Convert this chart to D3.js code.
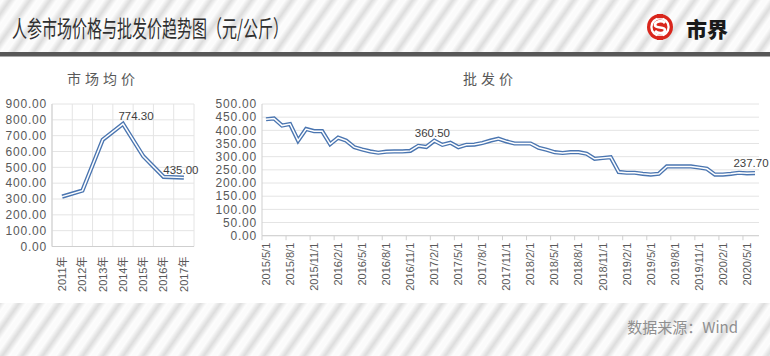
<!DOCTYPE html>
<html><head><meta charset="utf-8">
<script src="https://cdn.jsdelivr.net/npm/d3@7"></script>
<style>html,body{margin:0;padding:0;background:#fff;}svg{display:block;}</style>
</head><body>
<script>
// ---------- data ----------
const years = ["2011年","2012年","2013年","2014年","2015年","2016年","2017年"];
const marketAvg = [315, 353, 674, 774.3, 570, 440, 435];
const leftTicks = [0,100,200,300,400,500,600,700,800,900];

const months = ["2015/5/1","2015/6/1","2015/7/1","2015/8/1","2015/9/1","2015/10/1","2015/11/1","2015/12/1",
"2016/1/1","2016/2/1","2016/3/1","2016/4/1","2016/5/1","2016/6/1","2016/7/1","2016/8/1","2016/9/1","2016/10/1","2016/11/1","2016/12/1",
"2017/1/1","2017/2/1","2017/3/1","2017/4/1","2017/5/1","2017/6/1","2017/7/1","2017/8/1","2017/9/1","2017/10/1","2017/11/1","2017/12/1",
"2018/1/1","2018/2/1","2018/3/1","2018/4/1","2018/5/1","2018/6/1","2018/7/1","2018/8/1","2018/9/1","2018/10/1","2018/11/1","2018/12/1",
"2019/1/1","2019/2/1","2019/3/1","2019/4/1","2019/5/1","2019/6/1","2019/7/1","2019/8/1","2019/9/1","2019/10/1","2019/11/1","2019/12/1",
"2020/1/1","2020/2/1","2020/3/1","2020/4/1","2020/5/1","2020/6/1"];
const wholesale = [442,445,418,424,361,405,397,397,
348,372,361,336,327,320,315,319,320,320,322,341,
337,360.5,345,353,336,345,346,352,361,368,358,350,
350,350,334,326,317,314,317,317,311,292,295,298,
242,239,239,235,232,235,263,263,263,263,259,254,
232,232,235,239,237,237.7];
const rightTicks = [0,50,100,150,200,250,300,350,400,450,500];
const leftLabelIdx = [3, 6];
const rightLabelIdx = [21, 61];

// ---------- setup ----------
const W = 770, H = 356;
const svg = d3.select("body").append("svg").attr("width", W).attr("height", H);
const defs = svg.append("defs");
const grad = defs.append("linearGradient").attr("id","sg").attr("x1","0").attr("x2","1").attr("y1","0").attr("y2","0");
grad.append("stop").attr("offset","0").attr("stop-color","#ffffff");
grad.append("stop").attr("offset","0.5").attr("stop-color","#dcdcdc");
grad.append("stop").attr("offset","1").attr("stop-color","#ffffff");
const pat = defs.append("pattern").attr("id","stripes").attr("patternUnits","userSpaceOnUse")
  .attr("width",16.5).attr("height",16.5).attr("patternTransform","rotate(35)");
pat.append("rect").attr("width",16.5).attr("height",16.5).attr("fill","#fbfbfb");
pat.append("rect").attr("x",2).attr("width",12).attr("height",16.5).attr("fill","url(#sg)");

svg.append("rect").attr("width",W).attr("height",H).attr("fill","url(#stripes)");
svg.append("rect").attr("x",0).attr("y",56).attr("width",W).attr("height",247).attr("fill","#ffffff");
svg.append("rect").attr("x",0).attr("y",52).attr("width",W).attr("height",4.5).attr("fill","#575757");

// title
svg.append("text").attr("x",12).attr("y",37)
  .attr("font-family","'Noto Sans CJK SC', sans-serif").attr("font-size",23).attr("fill","#303030")
  .attr("textLength",276).attr("lengthAdjust","spacingAndGlyphs")
  .text("人参市场价格与批发价趋势图（元/公斤）");

// logo
const logo = svg.append("g").attr("transform","translate(660,27)");
logo.append("circle").attr("r",13).attr("fill","#d9261c");
logo.append("circle").attr("r",8.6).attr("fill","none").attr("stroke","#fff").attr("stroke-width",2.3);
logo.append("path").attr("d","M5,-4 C2,-7 -5,-6 -5,-2 C-5,2 5,-1 5,3 C5,7 -2,7 -5,4")
  .attr("fill","none").attr("stroke","#fff").attr("stroke-width",2.7);
logo.append("rect").attr("x",-3).attr("y",-13).attr("width",6).attr("height",4.2).attr("fill","#d9261c");
logo.append("rect").attr("x",-3).attr("y",8.8).attr("width",6).attr("height",4.2).attr("fill","#d9261c");
svg.append("text").attr("x",686).attr("y",37).attr("font-family","'Noto Sans CJK SC', sans-serif")
  .attr("font-size",21).attr("font-weight",900).attr("fill","#1a1a1a").text("市界");

// source
svg.append("text").attr("x",738).attr("y",333).attr("text-anchor","end")
  .attr("font-family","'Noto Sans CJK SC', sans-serif").attr("font-size",15).attr("fill","#8f8f8f")
  .text("数据来源：Wind");

const LINE = "#4a75b0", GRID = "#e4e4e4", AXIS = "#cfcfcf", TXT = "#595959";
const numFont = "'Liberation Sans', Arial, sans-serif";

function doubleLine(g, pathD) {
  g.append("path").attr("d", pathD).attr("fill","none").attr("stroke",LINE).attr("stroke-width",4.2).attr("stroke-linejoin","miter");
  g.append("path").attr("d", pathD).attr("fill","none").attr("stroke","#ffffff").attr("stroke-width",1.5).attr("stroke-linejoin","miter");
}

// ---------- left chart ----------
{
  const x = d3.scaleBand().domain(years).range([52, 194]);
  const y = d3.scaleLinear().domain([0, 900]).range([246.5, 104]);
  const g = svg.append("g");
  g.append("text").attr("x",103).attr("y",84).attr("text-anchor","middle")
    .attr("font-family","'Noto Sans CJK SC', sans-serif").attr("font-size",14).attr("letter-spacing",4)
    .attr("fill",TXT).text("市场均价");
  g.selectAll(".hg").data(leftTicks).join("line")
    .attr("x1",52).attr("x2",194).attr("y1",d=>y(d)).attr("y2",d=>y(d)).attr("stroke",GRID);
  const bounds = years.map(d=>x(d)).concat([x.range()[1]]);
  g.selectAll(".vg").data(bounds).join("line")
    .attr("x1",d=>d).attr("x2",d=>d).attr("y1",y(900)).attr("y2",y(0)).attr("stroke",GRID);
  g.append("line").attr("x1",52).attr("x2",194).attr("y1",y(0)).attr("y2",y(0)).attr("stroke",AXIS);
  g.append("line").attr("x1",52).attr("x2",52).attr("y1",y(900)).attr("y2",y(0)).attr("stroke",AXIS);
  g.selectAll(".yl").data(leftTicks).join("text")
    .attr("x",47).attr("y",d=>y(d)).attr("dy","0.35em").attr("text-anchor","end")
    .attr("font-family",numFont).attr("font-size",12).attr("letter-spacing",0.8).attr("fill",TXT)
    .text(d=>d3.format(".2f")(d));
  g.selectAll(".xl").data(years).join("text")
    .attr("transform",d=>`translate(${x(d)+x.bandwidth()/2},${y(0)+10}) rotate(-90)`)
    .attr("dy","0.35em").attr("text-anchor","end")
    .attr("font-family",numFont+",'Noto Sans CJK SC'").attr("font-size",11).attr("fill",TXT).text(d=>d);
  const line = d3.line().x((d,i)=>x(years[i])+x.bandwidth()/2).y(d=>y(d));
  doubleLine(g, line(marketAvg));
  const offs = {3:[13,-4], 6:[-3,-4]};
  g.selectAll(".dl").data(leftLabelIdx).join("text")
    .attr("x",i=>x(years[i])+x.bandwidth()/2+offs[i][0]).attr("y",i=>y(marketAvg[i])+offs[i][1])
    .attr("text-anchor","middle").attr("font-family",numFont).attr("font-size",11.5).attr("fill","#404040")
    .text(i=>d3.format(".2f")(marketAvg[i]));
}

// ---------- right chart ----------
{
  const x = d3.scaleBand().domain(months).range([262, 759]);
  const y = d3.scaleLinear().domain([0, 500]).range([235.7, 104]);
  const g = svg.append("g");
  g.append("text").attr("x",490).attr("y",84).attr("text-anchor","middle")
    .attr("font-family","'Noto Sans CJK SC', sans-serif").attr("font-size",14).attr("letter-spacing",4)
    .attr("fill",TXT).text("批发价");
  g.selectAll(".hg").data(rightTicks).join("line")
    .attr("x1",262).attr("x2",759).attr("y1",d=>y(d)).attr("y2",d=>y(d)).attr("stroke",GRID);
  g.append("line").attr("x1",262).attr("x2",759).attr("y1",y(0)).attr("y2",y(0)).attr("stroke",AXIS);
  g.append("line").attr("x1",262).attr("x2",262).attr("y1",y(500)).attr("y2",y(0)).attr("stroke",AXIS);
  const tickCats = months.filter((d,i)=>i%3===0);
  g.selectAll(".tk").data(tickCats).join("line")
    .attr("x1",d=>x(d)).attr("x2",d=>x(d)).attr("y1",y(0)).attr("y2",y(0)+4.5).attr("stroke",AXIS);
  g.selectAll(".yl").data(rightTicks).join("text")
    .attr("x",257).attr("y",d=>y(d)).attr("dy","0.35em").attr("text-anchor","end")
    .attr("font-family",numFont).attr("font-size",12).attr("letter-spacing",0.8).attr("fill",TXT)
    .text(d=>d3.format(".2f")(d));
  g.selectAll(".xl").data(tickCats).join("text")
    .attr("transform",d=>`translate(${x(d)+x.bandwidth()/2},${y(0)+7}) rotate(-90)`)
    .attr("dy","0.35em").attr("text-anchor","end")
    .attr("font-family",numFont).attr("font-size",11).attr("fill",TXT).text(d=>d);
  const line = d3.line().x((d,i)=>x(months[i])+x.bandwidth()/2).y(d=>y(d));
  doubleLine(g, line(wholesale));
  const offs = {21:[-2,-4], 61:[-4,-6]};
  g.selectAll(".dl").data(rightLabelIdx).join("text")
    .attr("x",i=>x(months[i])+x.bandwidth()/2+offs[i][0]).attr("y",i=>y(wholesale[i])+offs[i][1])
    .attr("text-anchor","middle").attr("font-family",numFont).attr("font-size",11.5).attr("fill","#404040")
    .text(i=>d3.format(".2f")(wholesale[i]));
}
</script>
</body></html>
